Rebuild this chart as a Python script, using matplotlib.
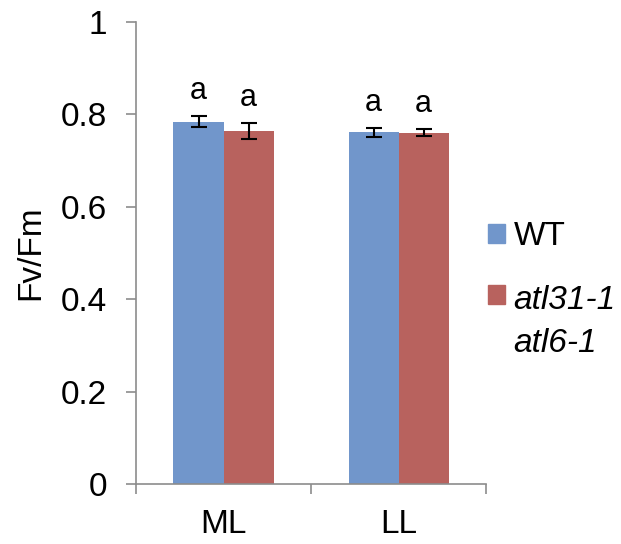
import matplotlib.pyplot as plt
from matplotlib.patches import Patch

plt.rcParams['font.family'] = ['Liberation Sans', 'DejaVu Sans']

groups = ['ML', 'LL']
wt_vals = [0.784, 0.761]
wt_err = [0.012, 0.010]
mut_vals = [0.764, 0.760]
mut_err = [0.018, 0.008]
wt_letters = ['a', 'a']
mut_letters = ['a', 'a']

blue = '#7196CB'
red = '#B8625E'
grey = '#8C8C8C'

fig = plt.figure(figsize=(6.21, 5.44), dpi=100)
ax = fig.add_axes([0.219, 0.110, 0.564, 0.850])

centers = [0.5, 1.5]
w = 0.286
wt_x = [c - w / 2 for c in centers]
mut_x = [c + w / 2 for c in centers]

ax.bar(wt_x, wt_vals, width=w, color=blue, yerr=wt_err,
       error_kw=dict(ecolor='black', elinewidth=1.5, capsize=6, capthick=1.5))
ax.bar(mut_x, mut_vals, width=w, color=red, yerr=mut_err,
       error_kw=dict(ecolor='black', elinewidth=1.5, capsize=6, capthick=1.5))

for xs, vals, errs, letters in [(wt_x, wt_vals, wt_err, wt_letters),
                                (mut_x, mut_vals, mut_err, mut_letters)]:
    for x, v, e, t in zip(xs, vals, errs, letters):
        ax.annotate(t, (x, v + e), xytext=(0, 7), textcoords='offset points',
                    ha='center', va='bottom', fontsize=22)

ax.set_xlim(0, 2)
ax.set_ylim(0, 1)
ax.set_yticks([0, 0.2, 0.4, 0.6, 0.8, 1.0])
ax.set_yticklabels(['0', '0.2', '0.4', '0.6', '0.8', '1'])
ax.set_xticks([0, 1, 2])
ax.set_xticklabels([])
ax.set_xticks(centers, minor=True)
ax.set_xticklabels(groups, minor=True)

ax.tick_params(axis='y', length=7, width=1.2, color=grey, labelsize=24, pad=14)
ax.tick_params(axis='x', which='major', length=7, width=1.2, color=grey)
ax.tick_params(axis='x', which='minor', length=0, labelsize=24, pad=18)

for s in ['top', 'right']:
    ax.spines[s].set_visible(False)
for s in ['left', 'bottom']:
    ax.spines[s].set_color(grey)
    ax.spines[s].set_linewidth(1.2)

ax.set_ylabel('Fv/Fm', fontsize=24, labelpad=10)

handles = [Patch(color=blue), Patch(color=red)]
leg = fig.legend(handles, ['WT', 'atl31-1\natl6-1'], loc='upper left',
                 bbox_to_anchor=(0.765, 0.618), frameon=False, fontsize=24,
                 handlelength=0.5, handleheight=0.5, handletextpad=0.25,
                 labelspacing=1.0, borderaxespad=0)
leg.get_texts()[1].set_fontstyle('italic')
leg.get_texts()[1].set_linespacing(1.5)
# square next to the first line of the two-line label
rows = leg._legend_handle_box.get_children()[0].get_children()
rows[1].align = 'top'

fig.savefig('out.png', dpi=100)
